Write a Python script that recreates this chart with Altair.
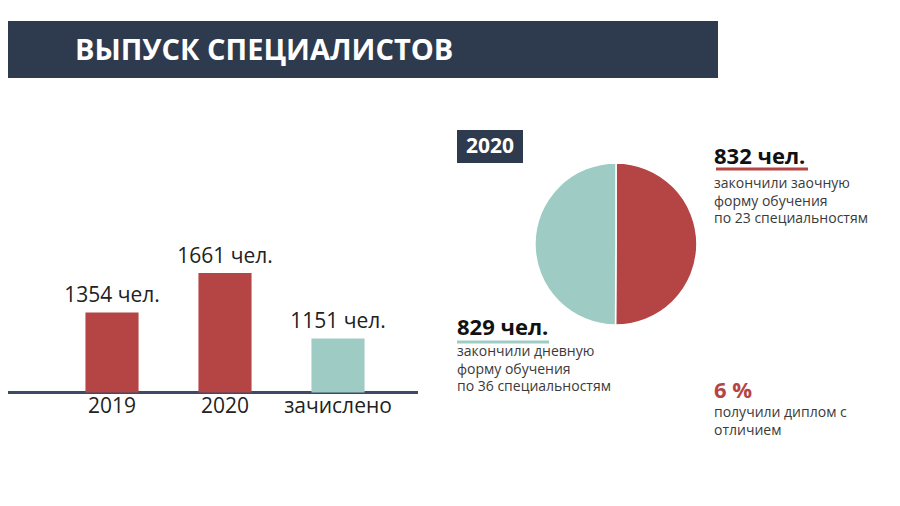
import altair as alt
import pandas as pd

# ---- data ----
categories = ["2019", "2020", "зачислено"]
values = [1354, 1661, 1151]
bar_colors = ["#b54545", "#b54545", "#9ecbc4"]

pie_labels = ["заочная", "дневная"]
pie_values = [832, 829]
pie_colors = ["#b54545", "#9ecbc4"]

title_text = "ВЫПУСК СПЕЦИАЛИСТОВ"
year_text = "2020"
zaoch_head = "832 чел."
zaoch_lines = ["закончили заочную", "форму обучения", "по 23 специальностям"]
dnev_head = "829 чел."
dnev_lines = ["закончили дневную", "форму обучения", "по 36 специальностям"]
honors_head = "6 %"
honors_lines = ["получили диплом с", "отличием"]

FONT = "Open Sans"
RED = "#b54545"
TEAL = "#9ecbc4"
NAVY = "#2e3a4d"
GREY = "#3a3a3a"

bars_df = pd.DataFrame({
    "cat": categories,
    "value": values,
    "label": [f"{v} чел." for v in values],
    "color": bar_colors,
})
pie_df = pd.DataFrame({"name": pie_labels, "value": pie_values, "color": pie_colors,
                       "order": list(range(len(pie_labels)))})

one = pd.DataFrame({"k": [0]})

xs = alt.Scale(domain=categories, range=[47.5, 386.5], paddingInner=0.53, paddingOuter=0.265)
ys = alt.Scale(domain=[730, 1680], range=[384.5, 262.6], zero=False, nice=False)

base = alt.Chart(bars_df)
bars = base.mark_bar().encode(
    x=alt.X("cat:N", scale=xs, axis=None),
    y=alt.Y("value:Q", scale=ys, axis=None),
    y2=alt.datum(730),
    color=alt.Color("color:N", scale=None, legend=None),
)
bar_labels = base.mark_text(baseline="bottom", dy=-6, font=FONT, fontSize=21, color="#222222").encode(
    x=alt.X("cat:N", scale=xs, axis=None),
    y=alt.Y("value:Q", scale=ys, axis=None),
    text="label:N",
)
cat_labels = base.mark_text(baseline="middle", font=FONT, fontSize=21, color="#222222").encode(
    x=alt.X("cat:N", scale=xs, axis=None),
    y=alt.value(399),
    text="cat:N",
)
axis_line = alt.Chart(one).mark_rule(color="#3d4b66", strokeWidth=3).encode(
    x=alt.value(-8), x2=alt.value(410), y=alt.value(384.5)
)

# header
header_rect = alt.Chart(one).mark_rect(color=NAVY).encode(
    x=alt.value(-8), x2=alt.value(710), y=alt.value(13), y2=alt.value(70)
)
header_text = alt.Chart(one).mark_text(
    text=title_text, align="left", baseline="middle", font=FONT, fontSize=29,
    fontWeight="bold", color="white"
).encode(x=alt.value(67), y=alt.value(43))

# year box
year_rect = alt.Chart(one).mark_rect(color=NAVY).encode(
    x=alt.value(449), x2=alt.value(515), y=alt.value(122), y2=alt.value(155)
)
year_label = alt.Chart(one).mark_text(
    text=year_text, align="center", baseline="middle", font=FONT, fontSize=21,
    fontWeight="bold", color="white"
).encode(x=alt.value(482), y=alt.value(139))

# pie
pie = alt.Chart(pie_df).mark_arc(stroke="white", strokeWidth=1.5).encode(
    theta=alt.Theta("value:Q", stack=True),
    order=alt.Order("order:Q"),
    color=alt.Color("color:N", scale=None, legend=None),
    x=alt.value(608), y=alt.value(236), radius=alt.value(81),
)

def text_block(head, head_color, lines, x, head_y, line_ys, underline=None):
    layers = [alt.Chart(one).mark_text(
        text=head, align="left", baseline="alphabetic", font=FONT, fontSize=22,
        fontWeight="bold", color=head_color
    ).encode(x=alt.value(x), y=alt.value(head_y))]
    if underline is not None:
        ux1, ux2, uy, ucol = underline
        layers.append(alt.Chart(one).mark_rule(color=ucol, strokeWidth=3).encode(
            x=alt.value(ux1), x2=alt.value(ux2), y=alt.value(uy)))
    for t, ly in zip(lines, line_ys):
        layers.append(alt.Chart(one).mark_text(
            text=t, align="left", baseline="middle", font=FONT, fontSize=14, color=GREY
        ).encode(x=alt.value(x), y=alt.value(ly)))
    return layers

blk1 = text_block(zaoch_head, "#111111", zaoch_lines, 706, 156, [176, 193.5, 211], (708, 800, 161, RED))
blk2 = text_block(dnev_head, "#111111", dnev_lines, 449, 327, [344, 361.5, 379], (449, 541, 334, TEAL))
blk3 = text_block(honors_head, RED, honors_lines, 706, 390, [405, 422.5])

chart = alt.layer(
    header_rect, header_text, axis_line, bars, bar_labels, cat_labels,
    year_rect, year_label, pie, *blk1, *blk2, *blk3
).properties(
    width=884, height=490, padding=0, autosize=alt.AutoSizeParams(type="none"),
    background="white"
).configure_view(stroke=None)

chart.save("out.html", embed_options={"renderer": "svg", "actions": False})
